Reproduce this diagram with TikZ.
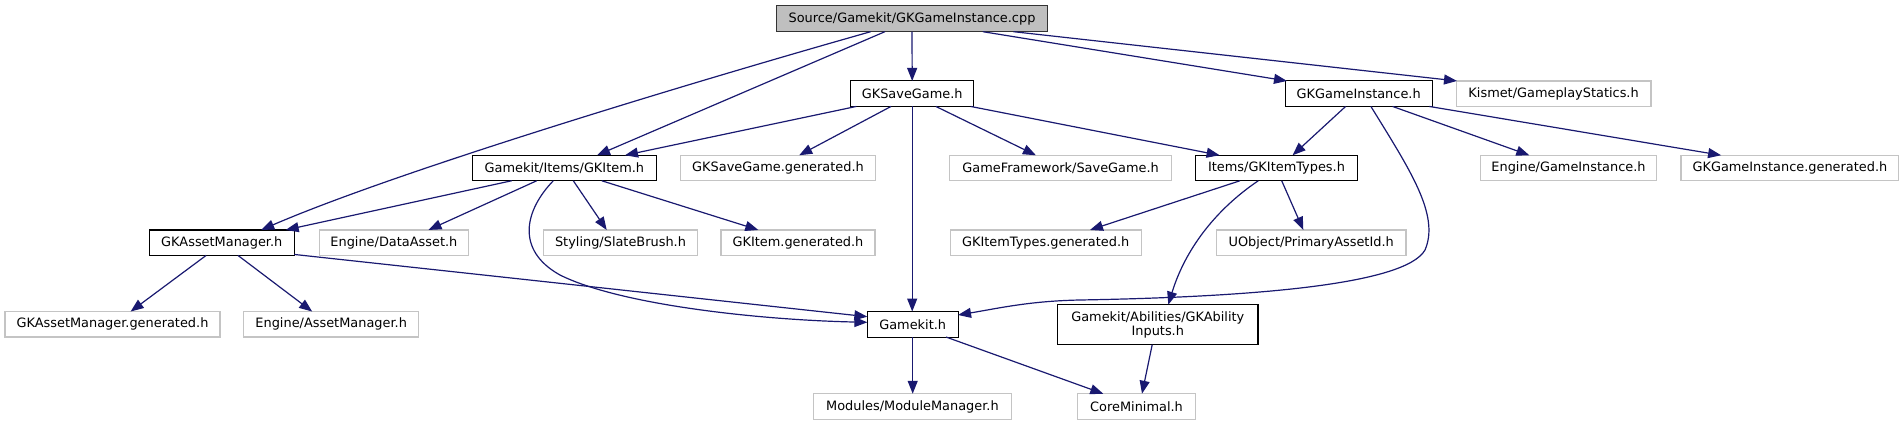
\documentclass[tikz,border=0pt]{standalone}
\usepackage{fontspec}
\setmainfont{DejaVu Sans}
\usetikzlibrary{arrows.meta}
\definecolor{edgeblue}{HTML}{191970}
\definecolor{undocgray}{HTML}{C4C4C4}
\definecolor{rootfill}{HTML}{BFBFBF}
\begin{document}
\begin{tikzpicture}[x=1pt,y=-1pt,
  box/.style={draw=black, line width=1.1pt, fill=white, inner sep=0pt, outer sep=0pt,
    minimum height=25.5pt, font=\fontsize{12.9}{14}\selectfont, text=black},
  doc/.style={box},
  undoc/.style={box, draw=undocgray, line width=1.3pt},
  root/.style={box, fill=rootfill, draw=black!80, minimum height=26pt},
  dep/.style={draw=edgeblue, line width=1.2pt, -{Triangle[length=13pt,width=10pt]}},
]
\useasboundingbox (0,0) rectangle (1904,425);

% row 1
\node[root, minimum width=270.6pt] (cpp) at (912,18.7) {Source/Gamekit/GKGameInstance.cpp};
% row 2
\node[doc, minimum width=123.3pt] (sg) at (912.2,93.7) {GKSaveGame.h};
\node[doc, minimum width=147pt] (gi) at (1358.7,93.7) {GKGameInstance.h};
\node[undoc, minimum width=194.7pt] (kis) at (1553.6,93.7) {Kismet/GameplayStatics.h};
% row 3
\node[doc, minimum width=184.2pt] (item) at (564.4,168) {Gamekit/Items/GKItem.h};
\node[undoc, minimum width=195.1pt] (sggen) at (778,168) {GKSaveGame.generated.h};
\node[undoc, minimum width=221.6pt] (gfsave) at (1060.6,168) {GameFramework/SaveGame.h};
\node[doc, minimum width=161.2pt] (itypes) at (1276.5,168) {Items/GKItemTypes.h};
\node[undoc, minimum width=176.4pt] (enggi) at (1568.5,168) {Engine/GameInstance.h};
\node[undoc, minimum width=217.6pt] (gigen) at (1789.9,168) {GKGameInstance.generated.h};
% row 4
\node[doc, minimum width=144.9pt] (am) at (221.8,242.7) {GKAssetManager.h};
\node[undoc, minimum width=149.4pt] (da) at (393.9,242.7) {Engine/DataAsset.h};
\node[undoc, minimum width=153.6pt] (slate) at (620.5,242.7) {Styling/SlateBrush.h};
\node[undoc, minimum width=154pt] (itemgen) at (798,242.7) {GKItem.generated.h};
\node[undoc, minimum width=191pt] (itgen) at (1045.7,242.7) {GKItemTypes.generated.h};
\node[undoc, minimum width=189.7pt] (paid) at (1311.2,242.7) {UObject/PrimaryAssetId.h};
% row 5
\node[undoc, minimum width=215.1pt] (amgen) at (112.5,324.3) {GKAssetManager.generated.h};
\node[undoc, minimum width=175.1pt] (engam) at (331.2,324.3) {Engine/AssetManager.h};
\node[doc, minimum width=90.7pt] (gk) at (912.7,324.3) {Gamekit.h};
\node[doc, minimum width=200.4pt, minimum height=40pt, align=center] (abil) at (1157.8,324.7) {Gamekit/Abilities/GKAbility\\Inputs.h};
% row 6
\node[undoc, minimum width=197.9pt] (mod) at (912.4,406.5) {Modules/ModuleManager.h};
\node[undoc, minimum width=117.9pt] (core) at (1136.5,406.5) {CoreMinimal.h};

% edges from cpp
\draw[dep] (cpp.south) -- (sg.north);
\draw[dep] ([xshift=-27.1pt]cpp.south) -- ([xshift=32.6pt]item.north);
\draw[dep] ([xshift=-41.4pt]cpp.south) .. controls (700,80) and (400,170) .. ([xshift=39.4pt]am.north);
\draw[dep] ([xshift=70.9pt]cpp.south) -- ([xshift=-71.7pt]gi.north);
\draw[dep] ([xshift=101.5pt]cpp.south) -- ([xshift=-96.6pt]kis.north);

% edges from GKSaveGame.h
\draw[dep] ([xshift=-55.9pt]sg.south) -- ([xshift=60.6pt]item.north);
\draw[dep] ([xshift=-21.2pt]sg.south) -- ([xshift=21.2pt]sggen.north);
\draw[dep] (sg.south) -- (sg.south |- gk.north);
\draw[dep] ([xshift=23.7pt]sg.south) -- ([xshift=-24.7pt]gfsave.north);
\draw[dep] ([xshift=58.4pt]sg.south) -- ([xshift=-56.9pt]itypes.north);

% edges from GKGameInstance.h
\draw[dep] ([xshift=-13.1pt]gi.south) -- ([xshift=16.1pt]itypes.north);
\draw[dep] ([xshift=12.2pt]gi.south) .. controls (1410,170) and (1440,215) .. (1425,250)
  .. controls (1405,285) and (1250,297) .. (1080,300)
  .. controls (1030,301) and (1000,308) .. ([yshift=9.3pt]gk.east);
\draw[dep] ([xshift=33.9pt]gi.south) -- ([xshift=-39.2pt]enggi.north);
\draw[dep] ([xshift=70.6pt]gi.south) -- ([xshift=-68.8pt]gigen.north);

% edges from Gamekit/Items/GKItem.h
\draw[dep] ([xshift=-52.7pt]item.south) -- ([xshift=63.9pt]am.north);
\draw[dep] ([xshift=-27.7pt]item.south) -- ([xshift=34.6pt]da.north);
\draw[dep] ([xshift=-11.1pt]item.south) .. controls (525,210) and (515,250) .. (560,275)
  .. controls (620,305) and (760,320) .. ([yshift=2pt]gk.west);
\draw[dep] ([xshift=8.9pt]item.south) -- ([xshift=-13.8pt]slate.north);
\draw[dep] ([xshift=37.3pt]item.south) -- ([xshift=-39.7pt]itemgen.north);

% edges from GKAssetManager.h
\draw[dep] ([xshift=-15.7pt]am.south) -- ([xshift=18.1pt]amgen.north);
\draw[dep] ([xshift=16.2pt]am.south) -- ([xshift=-19pt]engam.north);
\draw[dep] ([yshift=1pt]am.south east) -- ([yshift=7.6pt]gk.west);

% edges from Items/GKItemTypes.h
\draw[dep] ([xshift=-36.5pt]itypes.south) -- ([xshift=44.3pt]itgen.north);
\draw[dep] ([xshift=5.2pt]itypes.south) -- ([xshift=-7.9pt]paid.north);
\draw[dep] ([xshift=-18.2pt]itypes.south) .. controls (1215,210) and (1185,250) .. ([xshift=10.5pt]abil.north);

% edges from Gamekit.h
\draw[dep] (gk.south) -- (gk.south |- mod.north);
\draw[dep] ([xshift=33.4pt]gk.south) -- ([xshift=-33.2pt]core.north);

% edge from GKAbilityInputs.h
\draw[dep] ([xshift=-5.6pt]abil.south) -- ([xshift=5.5pt]core.north);
\end{tikzpicture}
\end{document}
